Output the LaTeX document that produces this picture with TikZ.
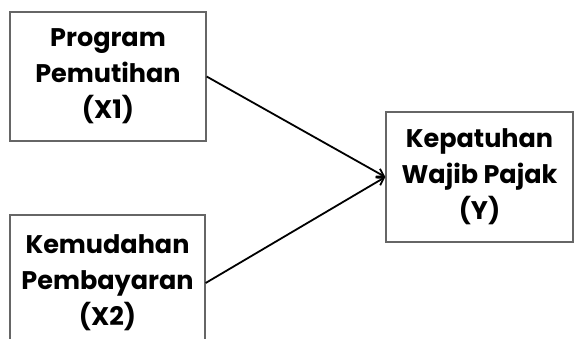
\documentclass[tikz,border=0pt]{standalone}
\usepackage{fontspec}
\setmainfont{Poppins}
\usetikzlibrary{arrows.meta}

\begin{document}
\begin{tikzpicture}[x = 1pt, y = -1pt,
    varbox/.style = {draw = black!60, line width = 1.3pt, align = center, inner sep = 0pt,
                     font = \bfseries\fontsize{25.5}{36}\selectfont},
    link/.style = {-{Straight Barb[length = 7pt, width = 9pt]}, line width = 1.8pt}]
  \useasboundingbox (0, 0) rectangle (574, 338);
  \clip (0, 0) rectangle (574, 338);
  \node [varbox, minimum width = 196pt, minimum height = 129pt] (prog) at (108, 76.5) {Program\\Pemutihan\\(X1)};
  \node [varbox, minimum width = 195pt, minimum height = 136pt] (bayar) at (107.5, 283) {Kemudahan\\Pembayaran\\(X2)};
  \node [varbox, minimum width = 187pt, minimum height = 130pt] (patuh) at (479.5, 177) {Kepatuhan\\Wajib Pajak\\(Y)};
  \foreach \src in {prog, bayar}
    \draw [link] (\src.east) -- (patuh.west);
\end{tikzpicture}
\end{document}
